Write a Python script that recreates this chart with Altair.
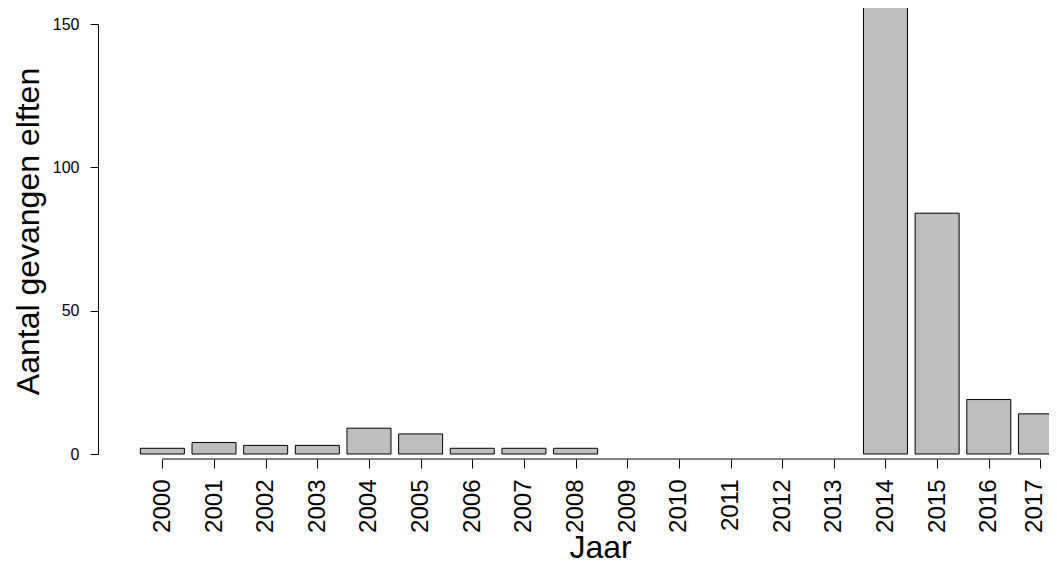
import altair as alt
import pandas as pd

years = [2000, 2001, 2002, 2003, 2004, 2005, 2006, 2007, 2008, 2009,
         2010, 2011, 2012, 2013, 2014, 2015, 2016, 2017]
counts = [2, 4, 3, 3, 9, 7, 2, 2, 2, 0, 0, 0, 0, 0, 157, 84, 19, 14]
y_ticks = [0, 50, 100, 150]

df = pd.DataFrame({"Jaar": years, "Aantal": counts})

FONT = "Liberation Sans"
W, H = 951, 430

xscale = alt.Scale(domain=[1998.8506, 2017.069], nice=False, zero=False)
yscale = alt.Scale(domain=[0, 150], nice=False, zero=True)

bars = alt.Chart(df).transform_filter(alt.datum.Aantal > 0).mark_bar(
    size=44, color="#bebebe", stroke="black", strokeWidth=1, clip=False
).encode(
    x=alt.X("Jaar:Q", scale=xscale,
            axis=alt.Axis(values=years, format="d", title="Jaar",
                          domain=False, offset=5, tickSize=9, tickColor="black",
                          tickWidth=1, labelAngle=270, labelAlign="right",
                          labelBaseline="middle", labelPadding=11, labelFontSize=24,
                          labelColor="black", labelFont=FONT, labelOverlap=False,
                          labelFlush=False, grid=False,
                          labelOffset={"condition": {"test": "datum.value == 2017", "value": -6},
                                       "value": 0},
                          titleFont=FONT, titleFontSize=32, titleFontWeight="normal",
                          titleColor="black", titleX=502, titleY=98,
                          titleAlign="center", titleBaseline="alphabetic")),
    y=alt.Y("Aantal:Q", scale=yscale,
            axis=alt.Axis(values=y_ticks, title="Aantal gevangen elften",
                          domain=True, domainColor="black", domainWidth=1,
                          tickSize=8, tickColor="black", tickWidth=1,
                          labelPadding=11, labelFontSize=16, labelColor="black",
                          labelFont=FONT, grid=False,
                          titleFont=FONT, titleFontSize=32, titleFontWeight="normal",
                          titleColor="black", titleAngle=270, titleX=-60, titleY=207,
                          titleAlign="center", titleBaseline="alphabetic")),
)

axis_line = alt.Chart(df).transform_filter(alt.datum.Jaar == 2000).mark_rule(
    color="black", strokeWidth=1, clip=False
).encode(
    x=alt.datum(years[0]),
    x2=alt.datum(years[-1]),
    y=alt.value(H + 5),
)

chart = alt.layer(bars, axis_line).properties(
    width=W, height=H,
    autosize=alt.AutoSizeParams(type="none"),
    padding={"left": 90, "top": 16, "right": 0, "bottom": 108},
    background="white",
).configure_view(stroke=None)

chart.save("out.html", embed_options={"renderer": "svg", "actions": False})
